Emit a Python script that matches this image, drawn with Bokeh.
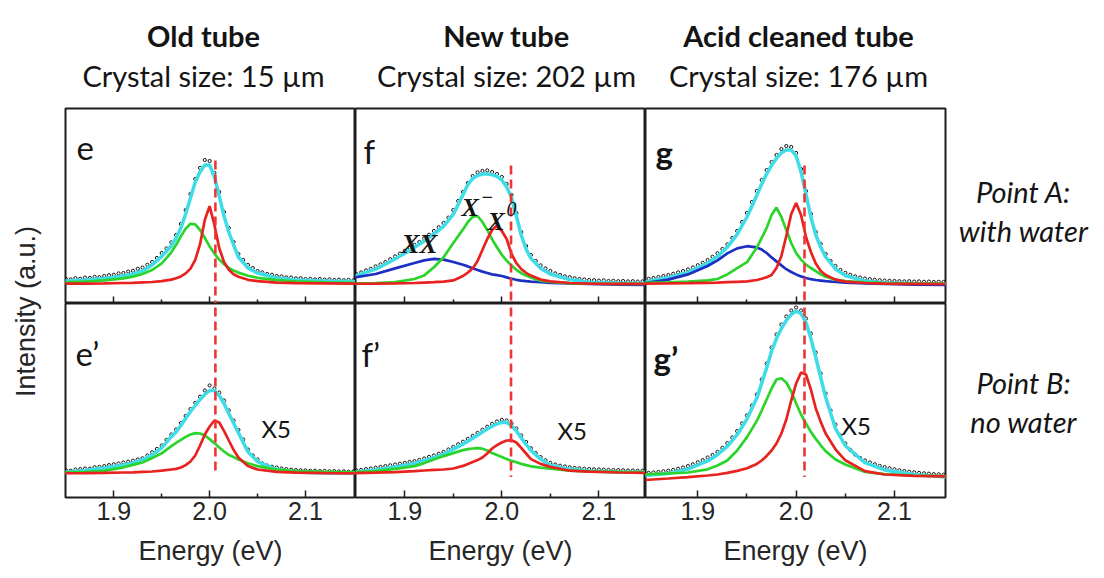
from math import pi
from bokeh.plotting import figure
from bokeh.models import Range1d, FixedTicker, Label, PrintfTickFormatter
from bokeh.layouts import row, column
from bokeh.embed import file_html
from bokeh.resources import INLINE

# ---------------- data ----------------
ENERGY = [1.845, 1.87, 1.89, 1.91, 1.92, 1.93, 1.94, 1.95, 1.96,
          1.965, 1.97, 1.975, 1.98, 1.985, 1.99, 1.995, 2.0,
          2.005, 2.01, 2.015, 2.02, 2.025, 2.03,
          2.04, 2.05, 2.07, 2.09, 2.12, 2.155]

DATA_ENERGY = [1.850, 1.855, 1.860, 1.865, 1.870, 1.875, 1.880, 1.885, 1.890, 1.895,
               1.900, 1.905, 1.910, 1.915, 1.920, 1.925, 1.930, 1.935, 1.940, 1.945,
               1.950, 1.955, 1.960, 1.965, 1.970, 1.975, 1.980, 1.985, 1.990, 1.995,
               2.000, 2.005, 2.010, 2.015, 2.020, 2.025, 2.030, 2.035, 2.040, 2.045,
               2.050, 2.055, 2.060, 2.065, 2.070, 2.075, 2.080, 2.085, 2.090, 2.095,
               2.100, 2.105, 2.110, 2.115, 2.120, 2.125, 2.130, 2.135, 2.140, 2.145, 2.150]

# panel e (old tube, point A)
E_DATA = [2.5, 2.3, 2.9, 2.6, 3.2, 3.0, 3.6, 3.4, 4.0, 4.4,
          4.6, 5.3, 5.5, 6.2, 6.6, 7.6, 8.2, 9.6, 11.0, 13.0,
          15.5, 17.8, 20.8, 24.5, 30.0, 37.0, 45.0, 52.5, 58.0, 62.0,
          61.5, 55.5, 46.0, 36.0, 28.0, 21.0, 15.0, 12.0, 9.5, 8.0,
          6.5, 5.8, 5.0, 4.6, 4.0, 3.8, 3.3, 3.2, 2.8, 2.9,
          2.5, 2.6, 2.3, 2.5, 2.2, 2.3, 2.0, 2.2, 1.9, 2.1, 1.8]
E_FIT = [1.4, 2.0, 2.8, 4.0, 5.0, 6.5, 9.5, 13.8, 19.0,
         23.0, 28.0, 35.0, 43.0, 51.0, 56.0, 59.5, 59.5,
         53.5, 44.0, 34.0, 26.0, 19.5, 13.5,
         8.0, 5.5, 3.0, 2.0, 1.5, 1.2]
E_RED = [0.2, 0.2, 0.3, 0.5, 0.6, 0.8, 1.0, 1.4, 2.2,
         2.9, 3.8, 5.3, 7.7, 12.1, 19.9, 32.1, 38.9,
         29.5, 18.0, 11.0, 7.1, 4.9, 3.6,
         2.1, 1.4, 0.7, 0.4, 0.3, 0.2]
E_GREEN = [0.8, 1.2, 1.8, 2.8, 3.7, 5.0, 7.0, 10.3, 15.8,
           19.6, 23.8, 27.7, 30.1, 29.8, 27.0, 23.0, 18.8,
           15.2, 12.2, 9.9, 8.1, 6.7, 5.7,
           4.1, 3.1, 1.9, 1.3, 0.8, 0.5]

# panel f (new tube, point A)
F_DATA = [5.0, 5.8, 6.8, 7.6, 8.8, 9.8, 11.0, 12.4, 13.8, 15.2,
          16.6, 18.0, 19.6, 21.0, 22.8, 24.6, 26.5, 28.4, 30.5, 33.2,
          37.0, 41.5, 46.0, 50.5, 54.0, 55.8, 56.5, 56.8, 56.0, 55.0,
          53.5, 50.0, 44.5, 35.5, 26.0, 19.0, 14.5, 11.5, 9.3, 7.8,
          6.5, 5.3, 4.5, 3.8, 3.4, 2.9, 2.5, 2.3, 2.0, 1.9,
          1.7, 1.8, 1.5, 1.6, 1.4, 1.5, 1.3, 1.4, 1.2, 1.3, 1.2]
F_FIT = [3.4, 7.4, 12.5, 18.3, 21.5, 25.0, 28.8, 34.8, 44.6,
         49.8, 52.7, 54.2, 55.0, 55.0, 54.6, 53.8, 52.0,
         48.5, 43.3, 34.0, 24.5, 17.5, 12.8,
         7.8, 5.0, 2.2, 0.9, 0.5, 0.3]
F_RED = [0.1, 0.2, 0.3, 0.5, 0.7, 0.9, 1.2, 1.8, 4.0,
         5.7, 7.8, 11.5, 17.0, 22.5, 27.0, 29.2, 26.5,
         22.5, 15.0, 10.5, 7.5, 5.6, 4.2,
         2.2, 1.3, 0.5, 0.2, 0.1, 0.0]
F_GREEN = [0.2, 0.4, 0.9, 2.5, 4.3, 8.4, 13.4, 20.5, 27.3,
           31.0, 33.6, 34.0, 31.0, 27.0, 22.3, 18.4, 14.6,
           11.7, 9.2, 7.1, 5.5, 4.2, 3.3,
           1.7, 1.0, 0.4, 0.2, 0.1, 0.0]
F_BLUE = [3.0, 5.0, 7.8, 10.5, 11.8, 12.6, 12.2, 11.0, 9.6,
          8.8, 7.9, 7.0, 6.2, 5.5, 4.8, 4.4, 4.0,
          3.3, 2.6, 2.1, 1.7, 1.4, 1.2,
          0.9, 0.6, 0.3, 0.1, -0.3, -0.5]

# panel g (acid cleaned tube, point A)
G_DATA = [2.6, 3.0, 3.5, 4.0, 4.5, 5.1, 5.8, 6.5, 7.3, 8.3,
          9.4, 10.6, 12.0, 13.6, 15.4, 17.5, 19.8, 23.0, 26.5, 31.0,
          35.5, 41.0, 46.5, 52.0, 57.0, 61.0, 64.5, 67.5, 69.0, 68.5,
          65.5, 57.5, 46.5, 35.0, 26.0, 20.0, 15.0, 11.5, 9.0, 7.0,
          5.6, 4.6, 3.8, 3.2, 2.7, 2.4, 2.1, 1.9, 1.7, 1.6,
          1.5, 1.4, 1.3, 1.4, 1.2, 1.3, 1.1, 1.2, 1.0, 1.1, 1.0]
G_FIT = [1.0, 3.1, 5.8, 10.4, 13.8, 18.4, 24.8, 33.5, 44.3,
         50.0, 55.0, 59.3, 62.8, 65.6, 67.0, 67.0, 64.0,
         56.0, 45.0, 33.5, 24.5, 18.5, 13.5,
         7.5, 4.2, 1.5, 0.5, 0.2, 0.0]
G_RED = [0.2, 0.3, 0.4, 0.6, 0.7, 0.9, 1.1, 1.3, 2.0,
         2.6, 3.4, 4.5, 8.0, 14.0, 24.0, 35.0, 40.5,
         34.5, 23.5, 16.0, 10.2, 6.5, 4.5,
         2.2, 1.2, 0.5, 0.2, 0.1, 0.0]
G_GREEN = [0.5, 0.8, 1.2, 1.8, 2.5, 4.8, 7.9, 10.9, 18.2,
           23.1, 28.0, 34.5, 38.2, 33.5, 27.0, 20.5, 15.5,
           12.2, 9.7, 8.0, 6.4, 4.8, 3.6,
           2.2, 1.5, 0.8, 0.5, 0.3, 0.2]
G_BLUE = [0.3, 2.2, 4.8, 9.0, 11.8, 15.3, 17.8, 18.9, 18.3,
          17.2, 15.5, 13.3, 11.3, 9.3, 7.4, 6.0, 4.8,
          3.8, 3.0, 2.4, 2.0, 1.7, 1.4,
          1.0, 0.7, 0.3, 0.0, -0.3, -0.5]

# panel e' (old tube, point B, x5)
EP_DATA = [1.6, 1.4, 2.0, 2.2, 2.5, 2.4, 3.1, 3.3, 3.7, 4.2,
           4.6, 5.0, 5.5, 5.9, 6.4, 7.0, 7.6, 9.0, 10.6, 12.3,
           14.0, 16.8, 19.5, 22.0, 25.2, 28.8, 32.2, 35.3, 38.4, 41.5,
           44.0, 42.5, 40.5, 36.5, 31.5, 26.5, 21.8, 17.0, 12.0, 9.0,
           7.0, 5.0, 4.0, 3.4, 3.0, 2.5, 2.2, 1.9, 1.7, 1.6,
           1.5, 1.3, 1.4, 1.2, 1.3, 1.1, 1.2, 1.0, 1.1, 0.9, 1.0]
EP_FIT = [0.5, 1.5, 2.7, 4.3, 5.3, 6.8, 9.2, 12.8, 18.4,
          20.8, 24.0, 27.5, 31.0, 34.0, 37.0, 39.5, 41.5,
          41.5, 39.0, 35.0, 30.0, 25.1, 20.4,
          10.8, 5.9, 2.0, 0.7, 0.3, 0.2]
EP_RED = [0.1, 0.2, 0.3, 0.5, 0.6, 0.8, 1.0, 1.4, 2.0,
          2.3, 3.0, 4.2, 6.0, 9.0, 14.0, 19.5, 23.5,
          26.5, 25.5, 21.3, 16.5, 11.8, 8.0,
          3.7, 2.0, 0.8, 0.4, 0.2, 0.1]
EP_GREEN = [0.5, 0.8, 1.3, 3.1, 4.3, 5.5, 7.7, 10.1, 13.7,
            15.3, 16.8, 18.3, 19.5, 20.2, 20.0, 19.0, 17.2,
            15.2, 13.0, 11.0, 9.3, 8.2, 7.0,
            5.1, 3.7, 1.9, 1.2, 0.8, 0.6]

# panel f' (new tube, point B, x5)
FP_DATA = [1.5, 1.8, 2.2, 2.5, 2.9, 3.3, 3.7, 4.1, 4.5, 4.9,
           5.3, 5.8, 6.2, 6.8, 7.5, 8.3, 9.0, 9.9, 10.8, 12.0,
           13.3, 14.6, 15.9, 17.3, 18.8, 20.3, 21.9, 23.4, 24.8, 26.0,
           26.8, 26.5, 25.0, 22.5, 19.0, 15.8, 12.6, 10.2, 8.2, 6.6,
           5.3, 4.5, 3.9, 3.5, 3.1, 2.8, 2.6, 2.4, 2.2, 2.1,
           2.0, 1.9, 1.8, 1.7, 1.7, 1.6, 1.5, 1.5, 1.4, 1.4, 1.3]
FP_FIT = [0.5, 1.8, 3.3, 5.0, 6.5, 7.9, 9.6, 12.2, 14.7,
          16.1, 17.6, 19.1, 20.7, 22.2, 23.6, 24.8, 25.6,
          25.5, 23.8, 21.3, 17.8, 14.5, 11.5,
          7.2, 4.1, 2.2, 1.3, 0.8, 0.6]
FP_RED = [0.2, 0.4, 0.7, 1.2, 1.5, 1.8, 2.0, 2.5, 3.8,
          4.8, 5.8, 6.7, 8.0, 10.0, 12.5, 14.2, 15.5,
          16.5, 16.6, 15.5, 12.8, 10.0, 7.2,
          4.8, 3.3, 1.4, 0.9, 0.5, 0.3]
FP_GREEN = [0.6, 1.2, 2.3, 3.7, 5.2, 7.0, 8.7, 10.2, 11.7,
            12.2, 12.5, 12.7, 12.4, 11.5, 10.2, 9.2, 8.3,
            7.3, 6.3, 5.6, 4.8, 4.2, 3.6,
            2.9, 2.4, 1.4, 1.1, 0.8, 0.6]

# panel g' (acid cleaned tube, point B, x5)
GP_DATA = [0.3, 0.5, 0.8, 1.1, 1.4, 1.8, 2.4, 3.0, 3.7, 4.6,
           5.6, 6.7, 8.0, 9.3, 10.8, 12.8, 15.2, 18.0, 21.2, 25.0,
           29.0, 34.0, 39.5, 47.0, 55.0, 63.0, 69.5, 74.5, 78.5, 81.5,
           83.0, 81.5, 77.5, 70.0, 60.5, 50.0, 40.0, 31.5, 24.5, 19.0,
           15.0, 11.8, 9.5, 7.8, 6.5, 5.5, 4.6, 3.8, 3.2, 2.6,
           2.1, 1.6, 1.2, 0.9, 0.6, 0.3, 0.1, -0.1, -0.3, -0.4, -0.6]
GP_FIT = [-1.0, 0.0, 2.2, 6.3, 9.4, 13.6, 19.4, 27.2, 37.7,
          45.2, 52.8, 61.1, 67.5, 72.5, 76.5, 79.5, 81.2,
          80.0, 75.5, 67.5, 58.0, 48.0, 38.1,
          22.5, 13.9, 5.4, 1.8, -0.5, -1.8]
GP_RED = [-3.3, -2.5, -1.8, -1.0, -0.5, 0.3, 1.3, 2.6, 4.8,
          6.5, 8.8, 11.5, 15.0, 20.0, 27.0, 36.5, 45.0,
          50.5, 49.5, 42.0, 32.5, 25.8, 20.0,
          12.1, 6.6, 1.2, -0.5, -1.2, -1.5]
GP_GREEN = [-0.5, 0.0, 0.5, 2.1, 4.0, 6.5, 11.5, 18.2, 26.3,
            31.5, 37.0, 42.5, 47.0, 47.6, 45.5, 41.0, 35.0,
            29.5, 25.0, 20.8, 17.3, 14.1, 11.2,
            7.0, 4.5, 0.8, -0.3, -1.0, -1.3]

# reference line (neutral exciton position) per column
X0_ENERGY = [2.006, 2.0095, 2.0085]
X0_TOP = [61.7, 59.2, 59.2]
X0_BOTTOM = [0.0, -1.8, -1.8]

TICKS = [1.9, 2.0, 2.1]
MINOR_TICKS = [1.95, 2.05]

COLUMN_TITLES = ["Old tube", "New tube", "Acid cleaned tube"]
CRYSTAL_SIZES = ["Crystal size: 15 µm", "Crystal size: 202 µm", "Crystal size: 176 µm"]
PANEL_LETTERS = [["e", "f", "g"], ["e\u2019", "f\u2019", "g\u2019"]]
ROW_NOTES = [["Point A:", "with water"], ["Point B:", "no water"]]
SCALE_NOTE = "X5"
X_LABEL = "Energy (eV)"
Y_LABEL = "Intensity (a.u.)"

# ---------------- style / layout ----------------
RED = "#e8221f"
GREEN = "#2bd42b"
BLUE = "#1c2fc2"
CYAN = "#3edce6"
DASH = "#ee3535"
INK = "#141414"

W, H = 1104, 578
HEADER_H = 106
LEFT_W = 62
RIGHT_W = 157
FRAME_L = [65, 355, 645]
FRAME_W = [290, 290, 300]
FRAME_T = [108, 303]
FRAME_H = [195, 194]
X_RANGES = [(1.8496, 2.1522), (1.8492, 2.1481), (1.8468, 2.1519)]
Y_RANGES = [(-9.75, 87.75), (-12.0, 85.0)]

PANELS = {
    (0, 0): dict(data=E_DATA, fit=E_FIT, comps=[(E_GREEN, GREEN), (E_RED, RED)]),
    (0, 1): dict(data=F_DATA, fit=F_FIT, comps=[(F_BLUE, BLUE), (F_GREEN, GREEN), (F_RED, RED)]),
    (0, 2): dict(data=G_DATA, fit=G_FIT, comps=[(G_BLUE, BLUE), (G_GREEN, GREEN), (G_RED, RED)]),
    (1, 0): dict(data=EP_DATA, fit=EP_FIT, comps=[(EP_GREEN, GREEN), (EP_RED, RED)]),
    (1, 1): dict(data=FP_DATA, fit=FP_FIT, comps=[(FP_GREEN, GREEN), (FP_RED, RED)]),
    (1, 2): dict(data=GP_DATA, fit=GP_FIT, comps=[(GP_GREEN, GREEN), (GP_RED, RED)]),
}


def label(p, x, y, text, size, font="Lato", style="normal", align="left",
          color=INK, baseline="alphabetic", angle=0.0):
    p.add_layout(Label(x=x, y=y, text=text, text_font=font,
                       text_font_size=f"{size}px", text_font_style=style,
                       text_align=align, text_baseline=baseline,
                       text_color=color, angle=angle))


def to_data(r, c, px, py):
    x0, x1 = X_RANGES[c]
    y0, y1 = Y_RANGES[r]
    x = x0 + (px - FRAME_L[c]) * (x1 - x0) / FRAME_W[c]
    y = y1 - (py - FRAME_T[r]) * (y1 - y0) / FRAME_H[r]
    return x, y


def panel_text(p, r, c, px, py, text, size, **kw):
    x, y = to_data(r, c, px, py)
    label(p, x, y, text, size, **kw)


def blank(width, height):
    p = figure(width=width, height=height, x_range=Range1d(0, width),
               y_range=Range1d(0, height), x_axis_location=None,
               y_axis_location=None, title_location=None,
               toolbar_location=None, output_backend="svg", min_border=0,
               outline_line_color=None, background_fill_color="white",
               border_fill_color="white")
    p.grid.visible = False
    return p


def make_panel(r, c):
    p = figure(frame_width=FRAME_W[c], frame_height=FRAME_H[r],
               x_range=Range1d(*X_RANGES[c]), y_range=Range1d(*Y_RANGES[r]),
               x_axis_location="below", y_axis_location=None,
               title_location=None, toolbar_location=None,
               output_backend="svg",
               min_border_left=3 if c == 0 else 0,
               min_border_right=2 if c == 2 else 0,
               min_border_top=2 if r == 0 else 0,
               min_border_bottom=81 if r == 1 else 0,
               background_fill_color="white", border_fill_color="white")
    p.grid.visible = False
    p.outline_line_color = "#1e1e1e"
    p.outline_line_width = 2

    ax = p.xaxis[0]
    ax.ticker = FixedTicker(ticks=TICKS, minor_ticks=MINOR_TICKS)
    ax.formatter = PrintfTickFormatter(format="%.1f")
    ax.axis_line_color = None
    ax.major_tick_in = 7
    ax.major_tick_out = 0
    ax.minor_tick_in = 4
    ax.minor_tick_out = 0
    ax.major_tick_line_color = "#1e1e1e"
    ax.minor_tick_line_color = "#1e1e1e"
    ax.major_tick_line_width = 1.5
    ax.minor_tick_line_width = 1.5
    if r == 0:
        ax.major_label_text_font_size = "0px"
        ax.major_label_text_color = None
        ax.major_label_standoff = 0
    else:
        ax.major_label_text_font = "Liberation Sans"
        ax.major_label_text_font_size = "25px"
        ax.major_label_text_color = "#262626"
        ax.major_label_standoff = 4
        ax.axis_label = X_LABEL
        ax.axis_label_text_font = "Liberation Sans"
        ax.axis_label_text_font_size = "27px"
        ax.axis_label_text_font_style = "normal"
        ax.axis_label_text_color = "#262626"
        ax.axis_label_standoff = 13

    spec = PANELS[(r, c)]
    p.scatter(DATA_ENERGY, spec["data"], marker="circle", size=3.2,
              fill_color=None, line_color="black", line_width=0.9)
    p.line(ENERGY, spec["fit"], line_color=CYAN, line_width=3.5)
    for vals, col in spec["comps"]:
        p.line(ENERGY, vals, line_color=col, line_width=2.7)

    if r == 0:
        y0, y1 = X0_TOP[c], Y_RANGES[0][0] - 5
    else:
        y0, y1 = Y_RANGES[1][1] + 5, X0_BOTTOM[c]
    p.segment(x0=[X0_ENERGY[c]], y0=[y0], x1=[X0_ENERGY[c]], y1=[y1],
              line_color=DASH, line_width=2.6, line_dash="9 5")
    return p


panels = {(r, c): make_panel(r, c) for r in range(2) for c in range(3)}

# header with column titles (pixel coordinates, y measured from header bottom)
header = blank(W, HEADER_H)
HEAD_X = [203, 506, 798]
for c in range(3):
    label(header, HEAD_X[c], HEADER_H - 35, COLUMN_TITLES[c], 29, style="bold", align="center")
    label(header, HEAD_X[c], HEADER_H - 75, CRYSTAL_SIZES[c], 29, align="center")

# left column with the y label
left = blank(LEFT_W, H - HEADER_H)
label(left, 25, H - 311, Y_LABEL, 27, font="Liberation Sans", align="center",
      baseline="middle", color="#262626", angle=pi / 2)

# right column with the row notes
right = blank(RIGHT_W, H - HEADER_H)
NOTE_Y = [[191, 230], [382, 421]]
for r in range(2):
    for k in range(2):
        label(right, 1023 - (W - RIGHT_W), H - NOTE_Y[r][k], ROW_NOTES[r][k], 29,
              style="italic", align="center")

# panel letters
LETTER_POS = [[(76, 147), (363, 150), (655, 151)], [(75, 352), (361, 353), (653, 357)]]
for r in range(2):
    for c in range(3):
        px, py = LETTER_POS[r][c]
        panel_text(panels[(r, c)], r, c, px, py, PANEL_LETTERS[r][c], 33,
                   style="bold" if c == 2 else "normal")

# x5 notes
X5_POS = [(261, 428), (557, 430), (841, 425)]
for c in range(3):
    px, py = X5_POS[c]
    panel_text(panels[(1, c)], 1, c, px, py, SCALE_NOTE, 24)

# peak names in panel f
pf = panels[(0, 1)]
panel_text(pf, 0, 1, 401, 243, "XX", 27, font="Liberation Serif", style="bold italic")
panel_text(pf, 0, 1, 461, 207, "X", 26, font="Liberation Serif", style="bold italic")
panel_text(pf, 0, 1, 481, 196, "\u2212", 20, font="Liberation Serif", style="bold")
panel_text(pf, 0, 1, 487, 221, "X", 26, font="Liberation Serif", style="bold italic")
panel_text(pf, 0, 1, 506, 208, "0", 20, font="Liberation Serif", style="italic")

grid = column(row(panels[(0, 0)], panels[(0, 1)], panels[(0, 2)]),
              row(panels[(1, 0)], panels[(1, 1)], panels[(1, 2)]))
layout = column(header, row(left, grid, right))

open("out.html", "w").write(file_html(layout, INLINE))
